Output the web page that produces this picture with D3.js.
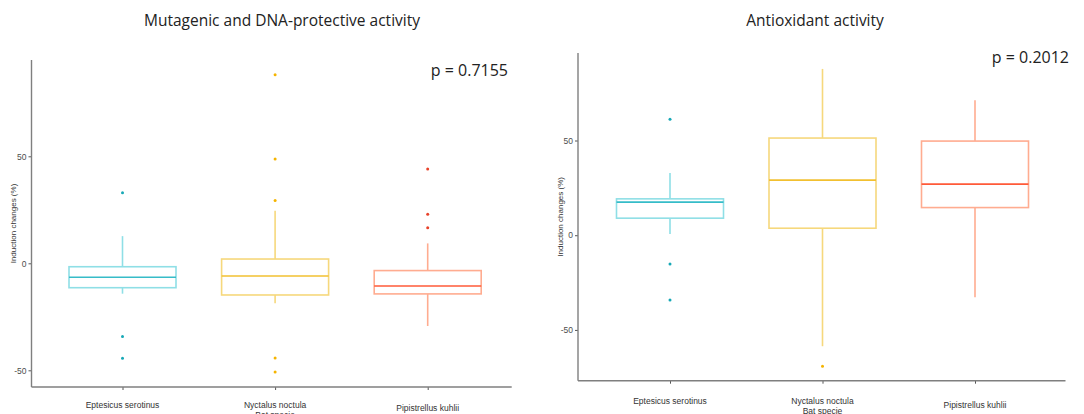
<!DOCTYPE html>
<html>
<head>
<meta charset="utf-8">
<script src="https://cdn.jsdelivr.net/npm/d3@7/dist/d3.min.js"></script>
<style>
  body { margin: 0; background: #fff; }
  svg { display: block; }
</style>
</head>
<body>
<div id="chart"></div>
<script>
//Data

//Bat species on the x axis
var species = ["Eptesicus serotinus", "Nyctalus noctula", "Pipistrellus kuhlii"];

//Mutagenic and DNA-protective activity
var mutLow = [-14.2, -18.7, -29.3];
var mutQ1 = [-11.4, -14.8, -14.3];
var mutMedian = [-6.5, -5.9, -10.6];
var mutQ3 = [-1.6, 2.0, -3.4];
var mutHigh = [12.7, 24.6, 9.3];
var mutOutliers = [[33.0, -34.2, -44.4], [88.1, 48.7, 29.3, -44.3, -50.8], [44.1, 22.9, 16.6]];

//Antioxidant activity
var antLow = [0.6, -58.6, -32.8];
var antQ1 = [9.0, 3.7, 14.6];
var antMedian = [17.5, 29.1, 27.0];
var antQ3 = [19.2, 51.3, 49.7];
var antHigh = [32.8, 87.8, 71.2];
var antOutliers = [[61.2, -15.2, -34.2], [-69.2], []];

var yTicks = [-50, 0, 50];

//Colours per species: box outline, median, points
var boxColors = ["#8fdfe6", "#f6d87c", "#ffac90"];
var medianColors = ["#36bcc8", "#f2c030", "#ff5a38"];
var pointColors = ["#16a8b6", "#f5b400", "#e8422a"];

var width = 1084, height = 414;

var svg = d3.select("#chart")
    .append("svg")
        .attr("width", width)
        .attr("height", height)
        .style("font-family", "'Liberation Sans', Arial, sans-serif");

function drawPanel(panel) {
    //Draw a single boxplot panel
    var g = svg.append("g");

    //Scales
    var x = d3.scalePoint()
        .domain(species)
        .range(panel.centers);
    var y = d3.scaleLinear()
        .domain(panel.yDomain)
        .range([panel.bottom, panel.top]);
    var half = 53.5;

    //Boxes
    var stats = species.map(function(s, i) {
        return {
            name: s, i: i,
            low: panel.low[i], q1: panel.q1[i], med: panel.median[i],
            q3: panel.q3[i], high: panel.high[i], out: panel.outliers[i]
        };
    });

    var box = g.selectAll("g.box")
        .data(stats)
        .enter()
        .append("g")
            .attr("class", "box");

    //Upper and lower whiskers
    box.append("line")
        .attr("x1", function(d) { return x(d.name); })
        .attr("x2", function(d) { return x(d.name); })
        .attr("y1", function(d) { return y(d.q3); })
        .attr("y2", function(d) { return y(d.high); })
        .attr("stroke", function(d) { return boxColors[d.i]; })
        .attr("stroke-width", 1.6);
    box.append("line")
        .attr("x1", function(d) { return x(d.name); })
        .attr("x2", function(d) { return x(d.name); })
        .attr("y1", function(d) { return y(d.q1); })
        .attr("y2", function(d) { return y(d.low); })
        .attr("stroke", function(d) { return boxColors[d.i]; })
        .attr("stroke-width", 1.6);

    box.append("rect")
        .attr("x", function(d) { return x(d.name) - half; })
        .attr("width", half * 2)
        .attr("y", function(d) { return y(d.q3); })
        .attr("height", function(d) { return y(d.q1) - y(d.q3); })
        .attr("fill", "#fff")
        .attr("stroke", function(d) { return boxColors[d.i]; })
        .attr("stroke-width", 1.6);

    box.append("line")
        .attr("x1", function(d) { return x(d.name) - half; })
        .attr("x2", function(d) { return x(d.name) + half; })
        .attr("y1", function(d) { return y(d.med); })
        .attr("y2", function(d) { return y(d.med); })
        .attr("stroke", function(d) { return medianColors[d.i]; })
        .attr("stroke-width", 1.6);

    //Outliers
    box.selectAll("circle")
        .data(function(d) { return d.out.map(function(v) { return { v: v, name: d.name, i: d.i }; }); })
        .enter()
        .append("circle")
            .attr("cx", function(d) { return x(d.name); })
            .attr("cy", function(d) { return y(d.v); })
            .attr("r", 1.5)
            .attr("fill", function(d) { return pointColors[d.i]; });

    //Y axis, plain hyphen for negatives like the source
    var yAxis = g.append("g")
        .attr("transform", "translate(" + panel.left + ",0)")
        .call(d3.axisLeft(y)
            .tickValues(yTicks)
            .tickSize(3)
            .tickSizeOuter(0)
            .tickPadding(2)
            .tickFormat(function(d) { return String(d); }));
    yAxis.select(".domain").remove();
    yAxis.selectAll(".tick line").attr("stroke", "#555");
    yAxis.selectAll("text").attr("fill", "#4d4d4d").style("font-size", "8.5px");
    g.append("line")
        .attr("x1", panel.left).attr("x2", panel.left)
        .attr("y1", panel.top).attr("y2", panel.bottom)
        .attr("stroke", "#7f7f7f").attr("stroke-width", 1.4);

    //X axis
    var xAxis = g.append("g")
        .attr("transform", "translate(0," + panel.bottom + ")")
        .call(d3.axisBottom(x).tickSize(3).tickSizeOuter(0).tickFormat(""));
    xAxis.select(".domain").remove();
    xAxis.selectAll(".tick line").attr("stroke", "#555");
    g.append("line")
        .attr("x1", panel.left).attr("x2", panel.right)
        .attr("y1", panel.bottom).attr("y2", panel.bottom)
        .attr("stroke", "#7f7f7f").attr("stroke-width", 1.4);

    //Category labels, staggered as in the source
    g.selectAll("text.cat")
        .data(species)
        .enter()
        .append("text")
            .attr("class", "cat")
            .attr("x", function(d) { return x(d); })
            .attr("y", function(d, i) { return panel.labelY[i]; })
            .attr("text-anchor", "middle")
            .attr("fill", "#333")
            .style("font-size", "8.5px")
            .text(function(d) { return d; });

    //X axis title
    g.append("text")
        .attr("x", x(species[1]))
        .attr("y", panel.xTitleY)
        .attr("text-anchor", "middle")
        .attr("fill", "#333")
        .style("font-size", "8.5px")
        .text("Bat specie");

    //Y axis title
    g.append("text")
        .attr("transform", "translate(" + panel.yTitleX + "," + ((panel.top + panel.bottom) / 2) + ") rotate(-90)")
        .attr("text-anchor", "middle")
        .attr("fill", "#333")
        .style("font-size", "8px")
        .text("Induction changes (%)");

    //Title
    g.append("text")
        .attr("x", panel.titleX)
        .attr("y", 26)
        .attr("text-anchor", "middle")
        .attr("fill", "#222")
        .style("font-family", "'Open Sans', 'Noto Sans', sans-serif")
        .style("font-size", "15.5px")
        .text(panel.title);

    //p value
    g.append("text")
        .attr("x", panel.pX)
        .attr("y", panel.pY)
        .attr("text-anchor", "end")
        .attr("fill", "#222")
        .style("font-family", "'Open Sans', 'Noto Sans', sans-serif")
        .style("font-size", "16px")
        .text(panel.p);
}

drawPanel({
    title: "Mutagenic and DNA-protective activity",
    p: "p = 0.7155",
    low: mutLow, q1: mutQ1, median: mutMedian, q3: mutQ3, high: mutHigh, outliers: mutOutliers,
    yDomain: [-57.8, 95.0],
    left: 31.5, right: 511.7, top: 60, bottom: 387,
    centers: [122.5, 427.7],
    labelY: [408, 408, 411],
    xTitleY: 418,
    yTitleX: 16,
    titleX: 282,
    pX: 508, pY: 76
});

drawPanel({
    title: "Antioxidant activity",
    p: "p = 0.2012",
    low: antLow, q1: antQ1, median: antMedian, q3: antQ3, high: antHigh, outliers: antOutliers,
    yDomain: [-76.8, 96.2],
    left: 578, right: 1065.5, top: 53, bottom: 380.7,
    centers: [670, 975],
    labelY: [404, 404, 408],
    xTitleY: 413.5,
    yTitleX: 563,
    titleX: 815,
    pX: 1069, pY: 63
});
</script>
</body>
</html>
